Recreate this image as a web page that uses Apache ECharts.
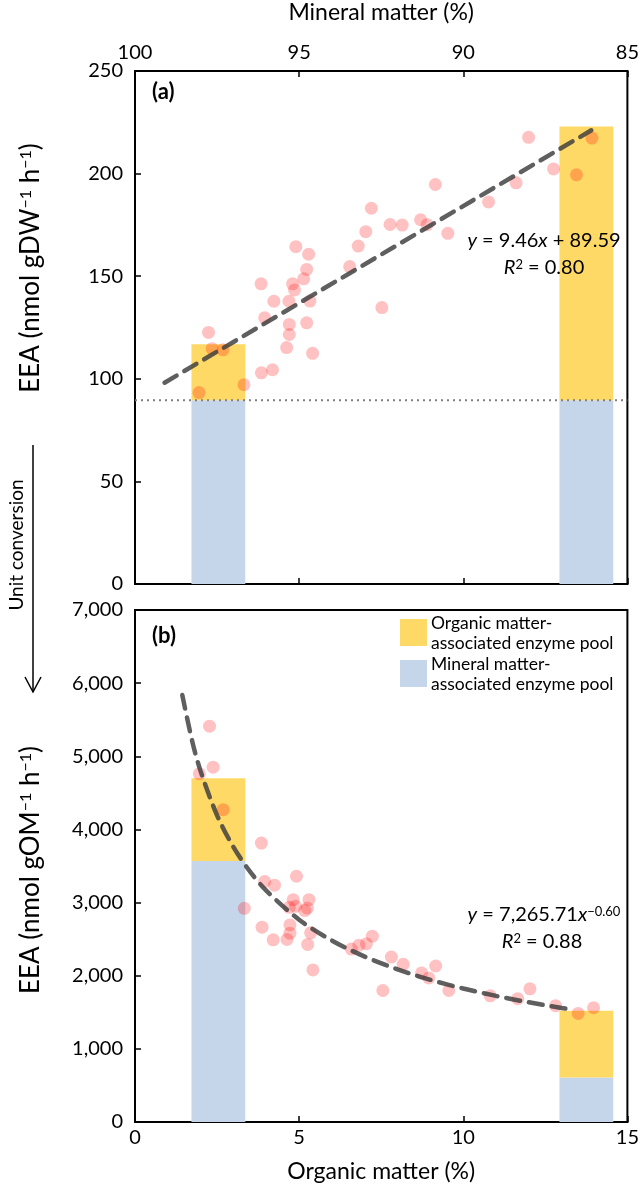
<!DOCTYPE html>
<html>
<head>
<meta charset="utf-8">
<script src="https://cdn.jsdelivr.net/npm/echarts@6/dist/echarts.min.js"></script>
<style>
  html, body { margin: 0; padding: 0; background: #fff; }
  #chart { width: 642px; height: 1184px; }
</style>
</head>
<body>
<div id="chart"></div>
<script>
// panel (a): EEA per dry weight vs organic matter
var organicA = [11.99, 13.92, 12.75, 13.45, 9.15, 11.61, 10.77, 7.20, 7.03, 7.77,
  8.14, 8.70, 8.90, 9.53, 6.80, 6.54, 7.52, 4.90, 5.29, 5.23,
  5.14, 3.84, 4.80, 4.86, 4.23, 4.69, 5.33, 3.95, 4.70, 5.23,
  4.70, 4.62, 5.41, 2.24, 2.35, 2.68, 3.85, 4.19, 3.32, 1.95]
var eeaA = [217.7, 217.3, 202.3, 199.4, 194.7, 195.5, 186.2, 183.1, 171.7, 175.2,
  174.9, 177.5, 175.1, 170.9, 164.7, 154.7, 134.7, 164.4, 160.7, 153.3,
  148.7, 146.3, 146.3, 143.3, 137.8, 137.8, 137.9, 129.7, 126.5, 127.3,
  121.6, 115.2, 112.4, 122.6, 114.7, 114.1, 102.9, 104.4, 97.1, 93.3]

// panel (b): EEA per organic matter
var organicB = [2.27, 2.38, 1.96, 2.69, 3.85, 4.92, 3.95, 4.25, 3.33, 4.82,
  4.70, 5.30, 4.89, 5.17, 5.25, 3.87, 4.72, 4.72, 4.21, 4.63,
  5.35, 5.26, 5.42, 6.59, 6.82, 7.05, 7.23, 7.81, 8.17, 8.73,
  8.95, 9.16, 7.55, 9.56, 10.82, 11.66, 12.03, 12.81, 13.50, 13.97]
var eeaB = [5412, 4851, 4760, 4270, 3814, 3360, 3288, 3238, 2921, 3039,
  2935, 3039, 2948, 2890, 2925, 2663, 2694, 2582, 2491, 2496,
  2586, 2428, 2079, 2364, 2418, 2436, 2541, 2255, 2156, 2038,
  1970, 2133, 1798, 1798, 1725, 1685, 1821, 1590, 1485, 1562]

// enzyme pool bars (centre on organic matter axis)
var poolCenters = [2.54, 13.75]
var mineralPoolA = [89.59, 89.59]
var totalPoolA = [116.8, 223]
var mineralPoolB = [3570, 610]
var totalPoolB = [4700, 1520]
var interceptA = 89.59

// fitted lines
var fitXA = [0.9, 13.9]
var fitYA = [98.1, 221.1]
var fitXB = [1.44, 1.75, 2, 2.5, 3, 3.5, 4, 5, 6, 7, 8, 9, 10, 11, 12, 13, 13.35]
var fitYB = [5838, 5193, 4794, 4193, 3758, 3426, 3163, 2766, 2480, 2261, 2087, 1944, 1825, 1724, 1636, 1559, 1535]

var tickA = [0, 50, 100, 150, 200, 250]
var tickB = [0, 1000, 2000, 3000, 4000, 5000, 6000, 7000]

var FONT = 'Lato, "Open Sans", sans-serif'
var YELLOW = '#ffd966'
var BLUE = '#c5d5ea'
var DOT = 'rgba(255, 0, 0, 0.3)'
var FIT = 'rgba(60, 60, 60, 0.82)'
var barHalf = 0.82

function zip (xs, ys) {
  return xs.map(function (x, i) { return [x, ys[i]] })
}

function poolBars (bottom, top, color, xi, yi) {
  return {
    type: 'custom',
    xAxisIndex: xi,
    yAxisIndex: yi,
    silent: true,
    data: poolCenters.map(function (c, i) { return [c, bottom[i], top[i]] }),
    renderItem: function (params, api) {
      var p0 = api.coord([api.value(0) - barHalf, api.value(2)])
      var p1 = api.coord([api.value(0) + barHalf, api.value(1)])
      return {
        type: 'rect',
        shape: { x: p0[0], y: p0[1], width: p1[0] - p0[0], height: p1[1] - p0[1] },
        style: { fill: color }
      }
    }
  }
}

function valueAxis (opt) {
  var base = {
    type: 'value',
    axisLine: { show: true, lineStyle: { color: '#000', width: 2 } },
    axisTick: { show: true, inside: true, length: 6, lineStyle: { color: '#000', width: 1.5 } },
    axisLabel: { color: '#000', fontSize: 20, fontFamily: FONT, margin: 12 },
    splitLine: { show: false }
  }
  return Object.assign(base, opt)
}

var richSup = {
  i: { fontStyle: 'italic', fontSize: 20, fontFamily: FONT, color: '#000' },
  n: { fontSize: 20, fontFamily: FONT, color: '#000' },
  s: { fontSize: 13, fontFamily: FONT, color: '#000', verticalAlign: 'top', lineHeight: 20 }
}
var richTitle = {
  n: { fontSize: 26, fontFamily: FONT, color: '#000' },
  s: { fontSize: 16, fontFamily: FONT, color: '#000', verticalAlign: 'top', lineHeight: 26 }
}
var titleStyle = { fontSize: 23, fontFamily: FONT, color: '#000' }

var myChart = echarts.init(document.getElementById('chart'), null, { renderer: 'canvas' })

var option = {
  backgroundColor: '#fff',
  animation: false,
  grid: [
    { left: 135, right: 14, top: 67, height: 517, show: true, borderColor: '#000', borderWidth: 2, backgroundColor: 'transparent' },
    { left: 135, right: 14, top: 610, height: 516, show: true, borderColor: '#000', borderWidth: 2, backgroundColor: 'transparent' }
  ],
  xAxis: [
    valueAxis({ gridIndex: 0, min: 0, max: 15, interval: 5, axisLabel: { show: false } }),
    valueAxis({
      gridIndex: 0, position: 'top', min: 85, max: 100, interval: 5, inverse: true,
      name: 'Mineral matter (%)', nameLocation: 'middle', nameGap: 47,
      nameTextStyle: titleStyle,
      axisLabel: { color: '#000', fontSize: 20, fontFamily: FONT, margin: 8 }
    }),
    valueAxis({
      gridIndex: 1, min: 0, max: 15, interval: 5,
      name: 'Organic matter (%)', nameLocation: 'middle', nameGap: 38,
      nameTextStyle: titleStyle,
      axisLabel: { color: '#000', fontSize: 20, fontFamily: FONT, margin: 6 }
    })
  ],
  yAxis: [
    valueAxis({ gridIndex: 0, min: tickA[0], max: tickA[tickA.length - 1], interval: 50 }),
    valueAxis({
      gridIndex: 1, min: tickB[0], max: tickB[tickB.length - 1], interval: 1000,
      axisLabel: {
        color: '#000', fontSize: 20, fontFamily: FONT, margin: 12,
        formatter: function (v) { return v.toLocaleString('en-US') }
      }
    })
  ],
  series: [
    // (a) pools
    poolBars([0, 0], mineralPoolA, BLUE, 0, 0),
    poolBars(mineralPoolA, totalPoolA, YELLOW, 0, 0),
    {
      type: 'line',
      xAxisIndex: 0,
      yAxisIndex: 0,
      data: [[0, interceptA], [15, interceptA]],
      symbol: 'none',
      lineStyle: { color: '#7f7f7f', width: 2, type: [2, 4] }
    },
    {
      type: 'scatter',
      xAxisIndex: 0,
      yAxisIndex: 0,
      data: zip(organicA, eeaA),
      symbolSize: 13,
      itemStyle: { color: DOT }
    },
    {
      type: 'line',
      xAxisIndex: 0,
      yAxisIndex: 0,
      data: zip(fitXA, fitYA),
      symbol: 'none',
      lineStyle: { color: FIT, width: 4.5, type: [14, 9], cap: 'round' }
    },
    // (b) pools
    poolBars([0, 0], mineralPoolB, BLUE, 2, 1),
    poolBars(mineralPoolB, totalPoolB, YELLOW, 2, 1),
    {
      type: 'scatter',
      xAxisIndex: 2,
      yAxisIndex: 1,
      data: zip(organicB, eeaB),
      symbolSize: 13,
      itemStyle: { color: DOT }
    },
    {
      type: 'line',
      xAxisIndex: 2,
      yAxisIndex: 1,
      data: zip(fitXB, fitYB),
      symbol: 'none',
      smooth: 0.3,
      lineStyle: { color: FIT, width: 4.5, type: [14, 9], cap: 'round' }
    }
  ],
  graphic: [
    { type: 'text', z: 100, x: 152, y: 92, style: { text: '(a)', font: 'bold 22px ' + FONT, fill: '#000', verticalAlign: 'middle' } },
    { type: 'text', z: 100, x: 152, y: 636, style: { text: '(b)', font: 'bold 22px ' + FONT, fill: '#000', verticalAlign: 'middle' } },
    // equations
    { type: 'text', z: 100, x: 544, y: 241, style: { text: '{i|y}{n| = 9.46}{i|x}{n| + 89.59}', rich: richSup, align: 'center', verticalAlign: 'middle' } },
    { type: 'text', z: 100, x: 544, y: 268, style: { text: '{i|R}{s|2}{n| = 0.80}', rich: richSup, align: 'center', verticalAlign: 'middle' } },
    { type: 'text', z: 100, x: 544, y: 915, style: { text: '{i|y}{n| = 7,265.71}{i|x}{s|\u22120.60}', rich: richSup, align: 'center', verticalAlign: 'middle' } },
    { type: 'text', z: 100, x: 542, y: 942, style: { text: '{i|R}{s|2}{n| = 0.88}', rich: richSup, align: 'center', verticalAlign: 'middle' } },
    // legend
    { type: 'rect', z: 100, shape: { x: 400, y: 619, width: 27, height: 27 }, style: { fill: YELLOW } },
    { type: 'rect', z: 100, shape: { x: 400, y: 660, width: 27, height: 27 }, style: { fill: BLUE } },
    { type: 'text', z: 100, x: 431, y: 633, style: { text: 'Organic matter-\nassociated enzyme pool', font: '17.5px ' + FONT, fill: '#000', lineHeight: 20, verticalAlign: 'middle' } },
    { type: 'text', z: 100, x: 431, y: 674, style: { text: 'Mineral matter-\nassociated enzyme pool', font: '17.5px ' + FONT, fill: '#000', lineHeight: 20, verticalAlign: 'middle' } },
    // y titles
    { type: 'text', z: 100, x: 31, y: 268, rotation: Math.PI / 2, style: { text: '{n|EEA (nmol gDW}{s|\u22121}{n| h}{s|\u22121}{n|)}', rich: richTitle, align: 'center', verticalAlign: 'middle' } },
    { type: 'text', z: 100, x: 31, y: 870, rotation: Math.PI / 2, style: { text: '{n|EEA (nmol gOM}{s|\u22121}{n| h}{s|\u22121}{n|)}', rich: richTitle, align: 'center', verticalAlign: 'middle' } },
    // unit conversion arrow
    { type: 'text', z: 100, x: 17, y: 545, rotation: Math.PI / 2, style: { text: 'Unit conversion', font: '19px ' + FONT, fill: '#000', align: 'center', verticalAlign: 'middle' } },
    { type: 'line', z: 100, shape: { x1: 33, y1: 445, x2: 33, y2: 692 }, style: { stroke: '#000', lineWidth: 1.5 } },
    { type: 'polyline', z: 100, shape: { points: [[25, 677], [33, 692], [41, 677]] }, style: { stroke: '#000', lineWidth: 1.5, fill: null } }
  ]
}

myChart.setOption(option)
</script>
</body>
</html>
